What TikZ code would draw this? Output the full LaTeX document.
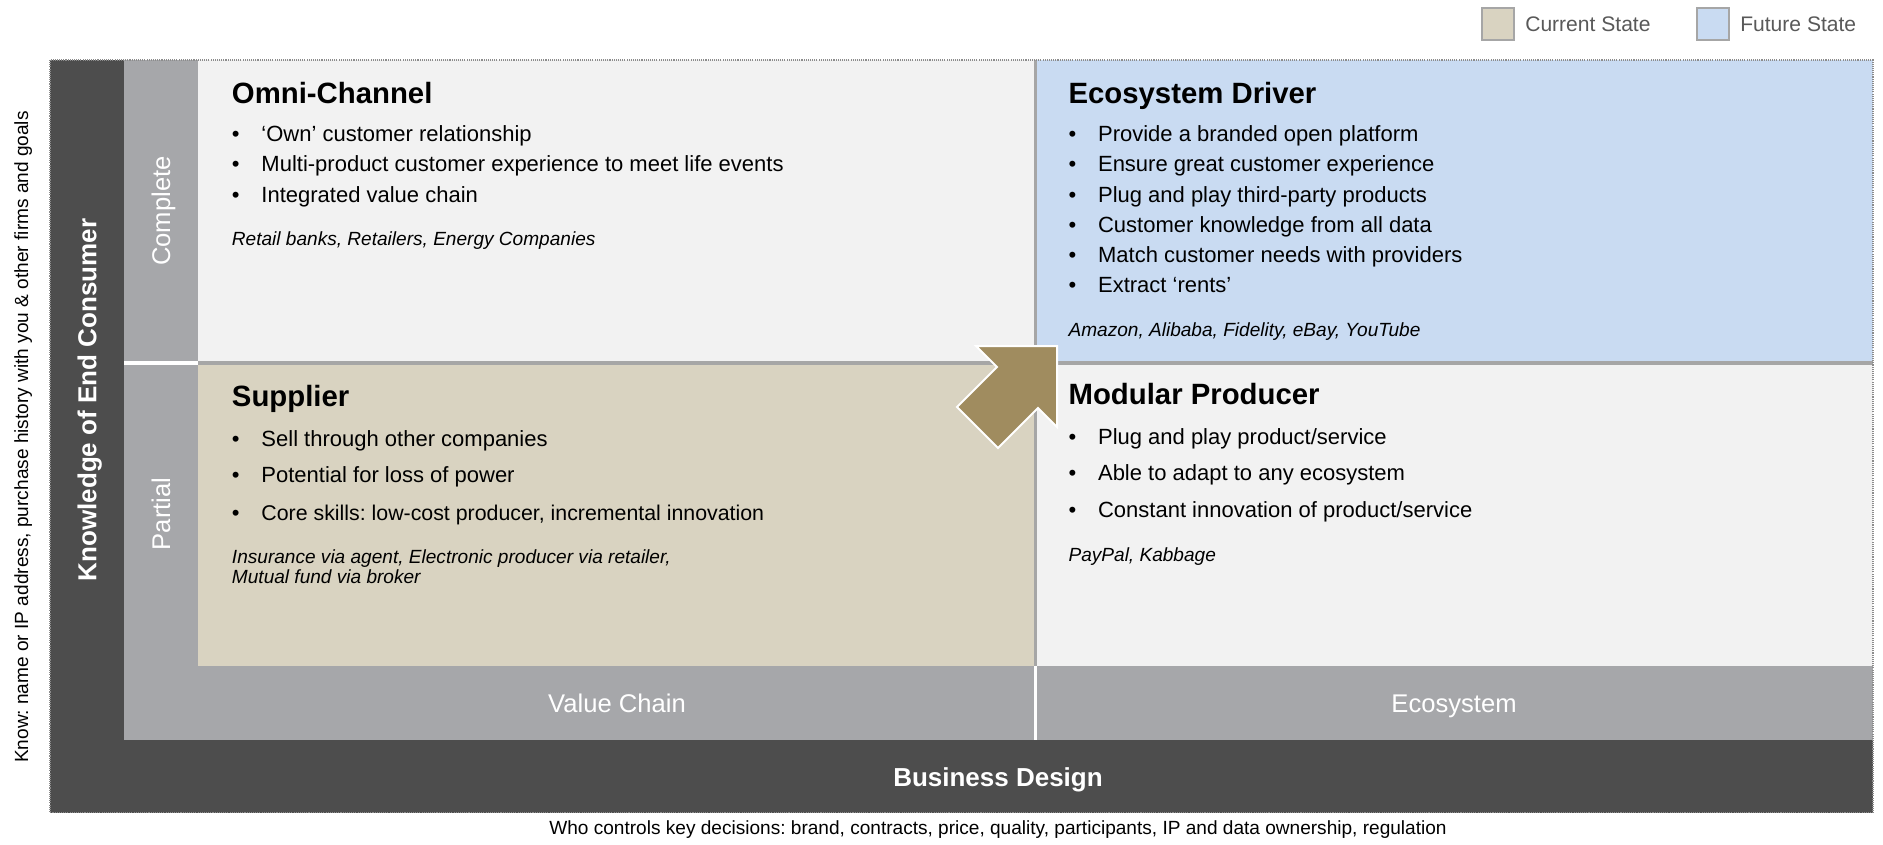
\documentclass[tikz,border=0pt]{standalone}
\usepackage{fontspec}
\setmainfont{Liberation Sans}
\frenchspacing
\definecolor{darkband}{HTML}{4D4D4D}
\definecolor{grayband}{HTML}{A6A7AA}
\definecolor{lightq}{HTML}{F2F2F2}
\definecolor{tanq}{HTML}{D9D3C1}
\definecolor{blueq}{HTML}{C9DBF2}
\definecolor{arrowc}{HTML}{A08C5F}
\definecolor{divider}{HTML}{A6A6A6}
\definecolor{legendtext}{HTML}{595959}
\definecolor{dotc}{HTML}{8C8C8C}
\tikzset{
 qtitle/.style={anchor=base west, inner sep=0pt, font=\fontsize{22}{26}\selectfont\bfseries},
 btxt/.style={anchor=base west, inner sep=0pt, font=\fontsize{16.5}{20}\selectfont},
 exmp/.style={anchor=base west, inner sep=0pt, font=\fontsize{14.3}{16}\selectfont\itshape},
 axislbl/.style={anchor=base, inner sep=0pt, text=white, font=\fontsize{19.2}{23}\selectfont},
 axisbold/.style={anchor=base, inner sep=0pt, text=white, font=\fontsize{19.5}{23}\selectfont\bfseries},
 captxt/.style={anchor=base, inner sep=0pt, font=\fontsize{14.3}{17}\selectfont},
 legtxt/.style={anchor=base west, inner sep=0pt, text=legendtext, font=\fontsize{15.8}{19}\selectfont},
 legbox/.style={draw=divider, line width=1.5pt},
}
\newcommand\bline[4]{%
  \node[btxt] (#1b) at (#2,#3) {•};
  \node[btxt] (#1) at ({#2+29.5},#3) {#4};}
\begin{document}
\begin{tikzpicture}[x=0.75pt,y=-0.75pt]
\useasboundingbox (0,0) rectangle (1883,844);
% frame bands
\fill[darkband] (50,60) rectangle (1873,812.7);
\fill[grayband] (124,60) rectangle (1873,740);
% quadrants
\fill[lightq] (198,60) rectangle (1035.7,363);
\fill[blueq] (1035.7,60) rectangle (1873,363);
\fill[tanq] (198,363) rectangle (1035.7,666);
\fill[lightq] (1035.7,363) rectangle (1873,666);
% dividers
\draw[divider, line width=2.5pt] (198,363) -- (1873,363);
\draw[divider, line width=2.4pt] (1035.7,60) -- (1035.7,666);
\draw[white, line width=2.5pt] (124,363) -- (198,363);
\draw[white, line width=2.4pt] (1035.7,666) -- (1035.7,740);
% dotted border
\draw[dotc, line width=1pt, dash pattern=on 0.8pt off 0.8pt] (50,60) rectangle (1873,812.7);
% arrow
\fill[arrowc, draw=white, line width=1.5pt, line join=miter]
  (1057,346) -- (976,346) -- (997,367) -- (957,407) -- (998,448) -- (1038,408) -- (1057,427) -- cycle;
% legend
\fill[tanq, legbox] (1482,8) rectangle (1514,40);
\node[legtxt] (legcur) at (1525,31.5) {Current State};
\fill[blueq, legbox] (1697,8) rectangle (1729,40);
\node[legtxt] (legfut) at (1740,31.5) {Future State};
% Omni-Channel
\node[qtitle] (omni) at (231.7,103.3) {Omni-Channel};
\bline{o1}{231.7}{141.7}{‘Own’ customer relationship}
\bline{o2}{231.7}{171.9}{Multi-product customer experience to meet life events}
\bline{o3}{231.7}{202.1}{Integrated value chain}
\node[exmp] (oex) at (231.7,245.7) {Retail banks, Retailers, Energy Companies};
% Ecosystem Driver
\node[qtitle] (eco) at (1068.3,103.3) {Ecosystem Driver};
\bline{e1}{1068.3}{141.7}{Provide a branded open platform}
\bline{e2}{1068.3}{171.9}{Ensure great customer experience}
\bline{e3}{1068.3}{202.1}{Plug and play third-party products}
\bline{e4}{1068.3}{232.3}{Customer knowledge from all data}
\bline{e5}{1068.3}{262.5}{Match customer needs with providers}
\bline{e6}{1068.3}{292.7}{Extract ‘rents’}
\node[exmp] (eex) at (1068.3,336) {Amazon, Alibaba, Fidelity, eBay, YouTube};
% Supplier
\node[qtitle] (sup) at (231.7,406.7) {Supplier};
\bline{s1}{231.7}{446}{Sell through other companies}
\bline{s2}{231.7}{482.7}{Potential for loss of power}
\bline{s3}{231.7}{520}{\fontsize{16}{20}\selectfont Core skills: low-cost producer, incremental innovation}
\node[exmp] (sex1) at (231.7,563.3) {Insurance via agent, Electronic producer via retailer,};
\node[exmp] (sex2) at (231.7,583.3) {Mutual fund via broker};
% Modular Producer
\node[qtitle] (mod) at (1068.3,404) {Modular Producer};
\bline{m1}{1068.3}{444}{Plug and play product/service}
\bline{m2}{1068.3}{480.7}{Able to adapt to any ecosystem}
\bline{m3}{1068.3}{517.3}{Constant innovation of product/service}
\node[exmp] (mex) at (1068.3,561) {PayPal, Kabbage};
% axis labels
\node[axislbl, rotate=90] (complete) at (170,211) {Complete};
\node[axislbl, rotate=90] (partial) at (170,514) {Partial};
\node[axislbl] (vchain) at (617,712) {Value Chain};
\node[axislbl] (ecosys) at (1454,712) {Ecosystem};
\node[axisbold, rotate=90] (know) at (96.3,400) {Knowledge of End Consumer};
\node[axisbold] (bdesign) at (998,786) {Business Design};
% outside captions
\node[captxt, rotate=90] (leftcap) at (28,437) {Know: name or IP address, purchase history with you \& other firms and goals};
\node[captxt] (botcap) at (998,834) {Who controls key decisions: brand, contracts, price, quality, participants, IP and data ownership, regulation};
\end{tikzpicture}
\end{document}
